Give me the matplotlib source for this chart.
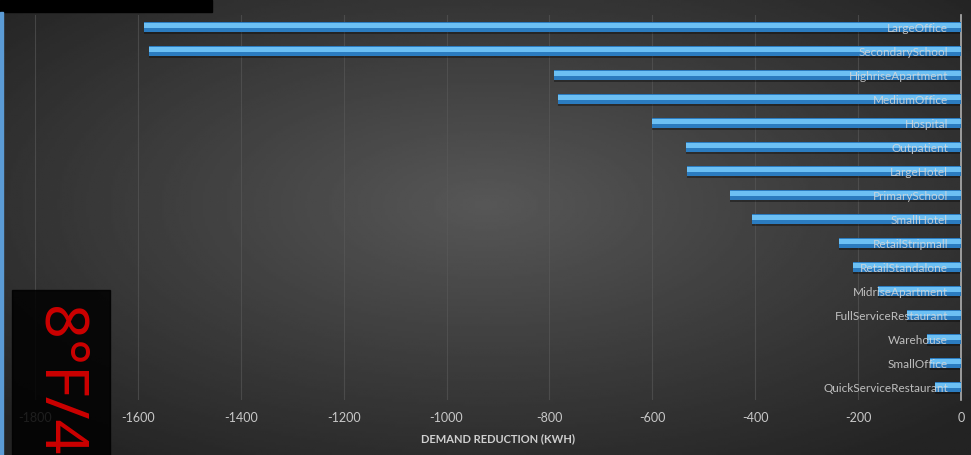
import matplotlib.pyplot as plt
import numpy as np
from matplotlib.patches import Rectangle

# data
buildings = ['LargeOffice', 'SecondarySchool', 'HighriseApartment', 'MediumOffice',
             'Hospital', 'Outpatient', 'LargeHotel', 'PrimarySchool', 'SmallHotel',
             'RetailStripmall', 'RetailStandalone', 'MidriseApartment',
             'FullServiceRestaurant', 'Warehouse', 'SmallOffice', 'QuickServiceRestaurant']
reduction = [-1588, -1579, -792, -783, -600, -534, -532, -450, -406,
             -237, -210, -161, -105, -66, -60, -50]
xticks = [-1800, -1600, -1400, -1200, -1000, -800, -600, -400, -200, 0]

plt.rcParams['font.family'] = ['Lato', 'DejaVu Sans']

fig = plt.figure(figsize=(9.71, 4.55), dpi=100)

# dark radial background
bg = fig.add_axes([0, 0, 1, 1], zorder=-1)
yy, xx = np.mgrid[0:1:200j, 0:1:400j]
r = np.sqrt(((xx - 0.5) / 0.75) ** 2 + ((yy - 0.45) / 0.75) ** 2)
shade = np.clip(0.34 - 0.22 * r, 0.14, 0.34)
bg.imshow(shade, cmap='gray', vmin=0, vmax=1, aspect='auto', extent=[0, 1, 0, 1])
bg.axis('off')

ax = fig.add_axes([35 / 971, 1 - 400 / 455, 926 / 971, 385 / 455])
ax.set_facecolor('none')
y = np.arange(len(buildings))

# bars: shadow, body, highlight
ax.barh(y + 0.08, reduction, height=0.42, color='black', alpha=0.35, zorder=2)
ax.barh(y, reduction, height=0.4, color='#2b7cc0', zorder=3)
ax.barh(y - 0.05, reduction, height=0.2, color='#6cc0f4', zorder=4)

for yi, name in zip(y, buildings):
    ax.text(-25, yi + 0.05, name, ha='right', va='center', fontsize=8.5,
            color='#d8d8d8', alpha=0.85, zorder=5)

ax.set_xlim(-1800, 0)
ax.set_ylim(len(buildings) - 0.46, -0.5)
ax.set_xticks(xticks)
ax.set_xticklabels([str(t) for t in xticks])
ax.set_yticks([])
ax.tick_params(axis='x', length=0, colors='#c8c8c8', labelsize=9, pad=9)
ax.grid(axis='x', color='#5a5a5a', linewidth=0.8, alpha=0.6, zorder=0)
for s in ['top', 'left', 'bottom']:
    ax.spines[s].set_visible(False)
ax.spines['right'].set_color('#b0b0b0')
ax.spines['right'].set_linewidth(1.2)
ax.set_xlabel('DEMAND REDUCTION (KWH)', color='#d0d0d0', fontsize=8,
              fontweight='bold', labelpad=6)

# overlays from the screenshot
fig.add_artist(Rectangle((0, 1 - 12 / 455), 212 / 971, 12 / 455,
                         transform=fig.transFigure, color='black', zorder=10))
fig.add_artist(Rectangle((12 / 971, 0), 98 / 971, 165 / 455,
                         transform=fig.transFigure, color='black', alpha=0.85, zorder=10))
fig.add_artist(Rectangle((0, 0), 2.5 / 971, 443 / 455,
                         transform=fig.transFigure, color='#5b9bd5', zorder=10))
fig.text(58 / 971, 1 - 306 / 455, '8°F/4.', rotation=-90, color='#cc0000',
         fontsize=44, ha='center', va='top', zorder=11, family=['Noto Sans', 'DejaVu Sans'])

fig.savefig('out.png', dpi=100)
